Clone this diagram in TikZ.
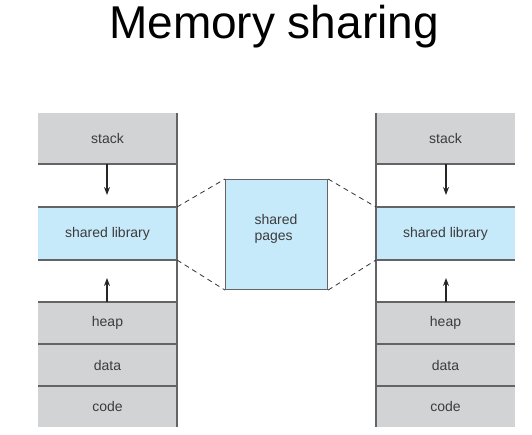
\documentclass[tikz,border=0pt]{standalone}
\usepackage{fontspec}
\setmainfont{Liberation Sans}
\usetikzlibrary{arrows.meta}
\definecolor{segGray}{RGB}{209,211,212}
\definecolor{segBlue}{RGB}{199,234,250}
\definecolor{lineGray}{RGB}{100,100,102}
\definecolor{txtGray}{RGB}{60,60,62}
\begin{document}
\begin{tikzpicture}[x=1pt,y=-1pt,
  seg/.style={draw=none,inner sep=0pt,outer sep=0pt,minimum width=139pt,text=txtGray,font=\fontsize{14}{16}\selectfont},
  grayseg/.style={seg,fill=segGray},
  blueseg/.style={seg,fill=segBlue},
  gapseg/.style={seg,fill=white},
  sepline/.style={draw=lineGray,line width=1.1pt},
  coledge/.style={draw=lineGray,line width=1.3pt},
  arr/.style={draw=black!85,line width=1.3pt,-{Stealth[length=8pt,width=6pt]}},
  dashline/.style={draw=black!80,line width=0.8pt,dash pattern=on 5pt off 4pt}
]
\useasboundingbox (0,0) rectangle (532,435);
\fill[white] (0,0) rectangle (532,435);
\node[anchor=base,font=\fontsize{46}{50}\selectfont] (title) at (274,39) {Memory sharing};

% Left column
\node[grayseg,minimum height=51pt,anchor=north west] (Lstack) at (38,113) {stack};
\node[gapseg,minimum height=43pt,anchor=north west] (Lgap1) at (38,164) {};
\node[blueseg,minimum height=53pt,anchor=north west] (Llib) at (38,207) {shared library};
\node[gapseg,minimum height=42pt,anchor=north west] (Lgap2) at (38,260) {};
\node[grayseg,minimum height=42pt,anchor=north west] (Lheap) at (38,302) {heap};
\node[grayseg,minimum height=42pt,anchor=north west] (Ldata) at (38,344) {data};
\node[grayseg,minimum height=41pt,anchor=north west] (Lcode) at (38,386) {code};
\foreach \n in {Lstack,Llib,Lheap,Ldata}{\draw[sepline] (\n.south west) -- (\n.south east);}
\draw[sepline] (Llib.north west) -- (Llib.north east);
\draw[sepline] (Lheap.north west) -- (Lheap.north east);
\draw[coledge] (Lstack.north east) -- (Lcode.south east);

% Right column
\node[grayseg,minimum height=51pt,anchor=north west] (Rstack) at (376,113) {stack};
\node[gapseg,minimum height=43pt,anchor=north west] (Rgap1) at (376,164) {};
\node[blueseg,minimum height=53pt,anchor=north west] (Rlib) at (376,207) {shared library};
\node[gapseg,minimum height=42pt,anchor=north west] (Rgap2) at (376,260) {};
\node[grayseg,minimum height=42pt,anchor=north west] (Rheap) at (376,302) {heap};
\node[grayseg,minimum height=42pt,anchor=north west] (Rdata) at (376,344) {data};
\node[grayseg,minimum height=41pt,anchor=north west] (Rcode) at (376,386) {code};
\foreach \n in {Rstack,Rlib,Rheap,Rdata}{\draw[sepline] (\n.south west) -- (\n.south east);}
\draw[sepline] (Rlib.north west) -- (Rlib.north east);
\draw[sepline] (Rheap.north west) -- (Rheap.north east);
\draw[coledge] (Rstack.north west) -- (Rcode.south west);

% arrows
\coordinate (Ladown) at (107,195);
\coordinate (Laup) at (107,278);
\coordinate (Radown) at (446,195);
\coordinate (Raup) at (446,278);
\draw[arr] (Lstack.south -| Ladown) -- (Ladown);
\draw[arr] (Lheap.north -| Laup) -- (Laup);
\draw[arr] (Rstack.south -| Radown) -- (Radown);
\draw[arr] (Rheap.north -| Raup) -- (Raup);

% shared pages
\node[draw=lineGray,line width=1.1pt,fill=segBlue,minimum width=102pt,minimum height=110pt,inner sep=0pt,anchor=north west] (pages) at (225,179) {};
\node[text=txtGray,font=\fontsize{14}{15.5}\selectfont,align=left,anchor=center] (pagestext) at (276,229) {shared\\pages};

% dashed connectors
\draw[dashline] (Llib.north east) -- (pages.north west);
\draw[dashline] (Llib.south east) -- (pages.south west);
\draw[dashline] (pages.north east) -- (Rlib.north west);
\draw[dashline] (pages.south east) -- (Rlib.south west);
\end{tikzpicture}
\end{document}
